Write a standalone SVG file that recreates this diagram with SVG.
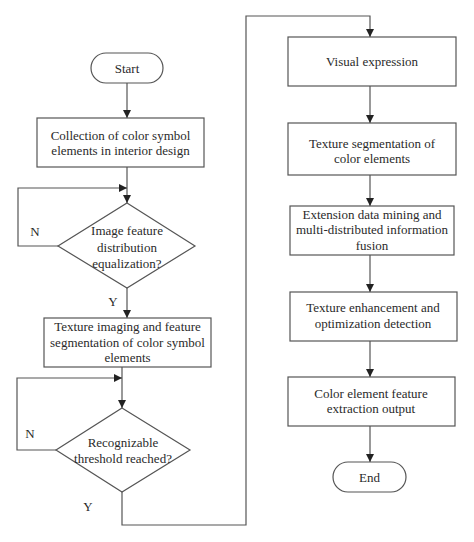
<svg xmlns="http://www.w3.org/2000/svg" width="474" height="542" viewBox="0 0 474 542">
<defs>
<marker id="ah" markerWidth="8" markerHeight="8" refX="8" refY="4" orient="auto" markerUnits="userSpaceOnUse">
<path d="M0,0 L8,4 L0,8 Z" fill="#222"/>
</marker>
<style>
.box{fill:#fff;stroke:#555;stroke-width:1.2}
.ln{fill:none;stroke:#555;stroke-width:1.2}
text{font-family:"Liberation Serif","Times New Roman",serif;font-size:13px;fill:#2a2a2a;text-anchor:middle;dominant-baseline:central}
</style>
</defs>
<rect width="474" height="542" fill="#fff"/>
<g id="connectors">
<path class="ln" d="M127,83 V118" marker-end="url(#ah)"/>
<path class="ln" d="M127,167 V203" marker-end="url(#ah)"/>
<path class="ln" d="M58,246 H18 V188 H127" marker-end="url(#ah)"/>
<path class="ln" d="M127,288 V318" marker-end="url(#ah)"/>
<path class="ln" d="M122,367 V408" marker-end="url(#ah)"/>
<path class="ln" d="M56,450 H17 V378 H122" marker-end="url(#ah)"/>
<path class="ln" d="M122,492 V525 H246 V16 H370 V37" marker-end="url(#ah)"/>
<path class="ln" d="M370,86 V123" marker-end="url(#ah)"/>
<path class="ln" d="M370,175 V206" marker-end="url(#ah)"/>
<path class="ln" d="M370,255 V292" marker-end="url(#ah)"/>
<path class="ln" d="M370,341 V377" marker-end="url(#ah)"/>
<path class="ln" d="M370,426 V462" marker-end="url(#ah)"/>
<text x="35" y="231">N</text>
<text x="113" y="301">Y</text>
<text x="30" y="433">N</text>
<text x="88" y="506">Y</text>
</g>
<g id="start">
<rect class="box" x="91" y="53" width="72" height="30" rx="15"/>
<text x="127" y="68">Start</text>
</g>
<g id="collection">
<rect class="box" x="37" y="118" width="167" height="49"/>
<text x="120.5" y="135">Collection of color symbol</text>
<text x="120.5" y="150">elements in interior design</text>
</g>
<g id="decision1">
<polygon class="box" points="127,203 195,246 127,288 58,246"/>
<text x="127" y="230">Image feature</text>
<text x="127" y="247">distribution</text>
<text x="127" y="263">equalization?</text>
</g>
<g id="texture-imaging">
<rect class="box" x="44" y="318" width="167" height="49"/>
<text x="127.5" y="326">Texture imaging and feature</text>
<text x="127.5" y="342">segmentation of color symbol</text>
<text x="127.5" y="357">elements</text>
</g>
<g id="decision2">
<polygon class="box" points="122,408 190,450 122,492 56,450"/>
<text x="123" y="442">Recognizable</text>
<text x="123" y="458">threshold reached?</text>
</g>
<g id="visual">
<rect class="box" x="288" y="37" width="168" height="49"/>
<text x="372" y="61">Visual expression</text>
</g>
<g id="texture-seg">
<rect class="box" x="288" y="123" width="168" height="52"/>
<text x="372" y="143">Texture segmentation of</text>
<text x="372" y="158">color elements</text>
</g>
<g id="extension">
<rect class="box" x="290" y="206" width="164" height="49"/>
<text x="372" y="214">Extension data mining and</text>
<text x="372" y="229">multi-distributed information</text>
<text x="372" y="245">fusion</text>
</g>
<g id="enhancement">
<rect class="box" x="290" y="292" width="167" height="49"/>
<text x="373" y="307">Texture enhancement and</text>
<text x="373" y="323">optimization detection</text>
</g>
<g id="extraction">
<rect class="box" x="288" y="377" width="167" height="49"/>
<text x="371" y="393">Color element feature</text>
<text x="371" y="408">extraction output</text>
</g>
<g id="end">
<rect class="box" x="333" y="462" width="73" height="30" rx="15"/>
<text x="369.5" y="477">End</text>
</g>
</svg>
